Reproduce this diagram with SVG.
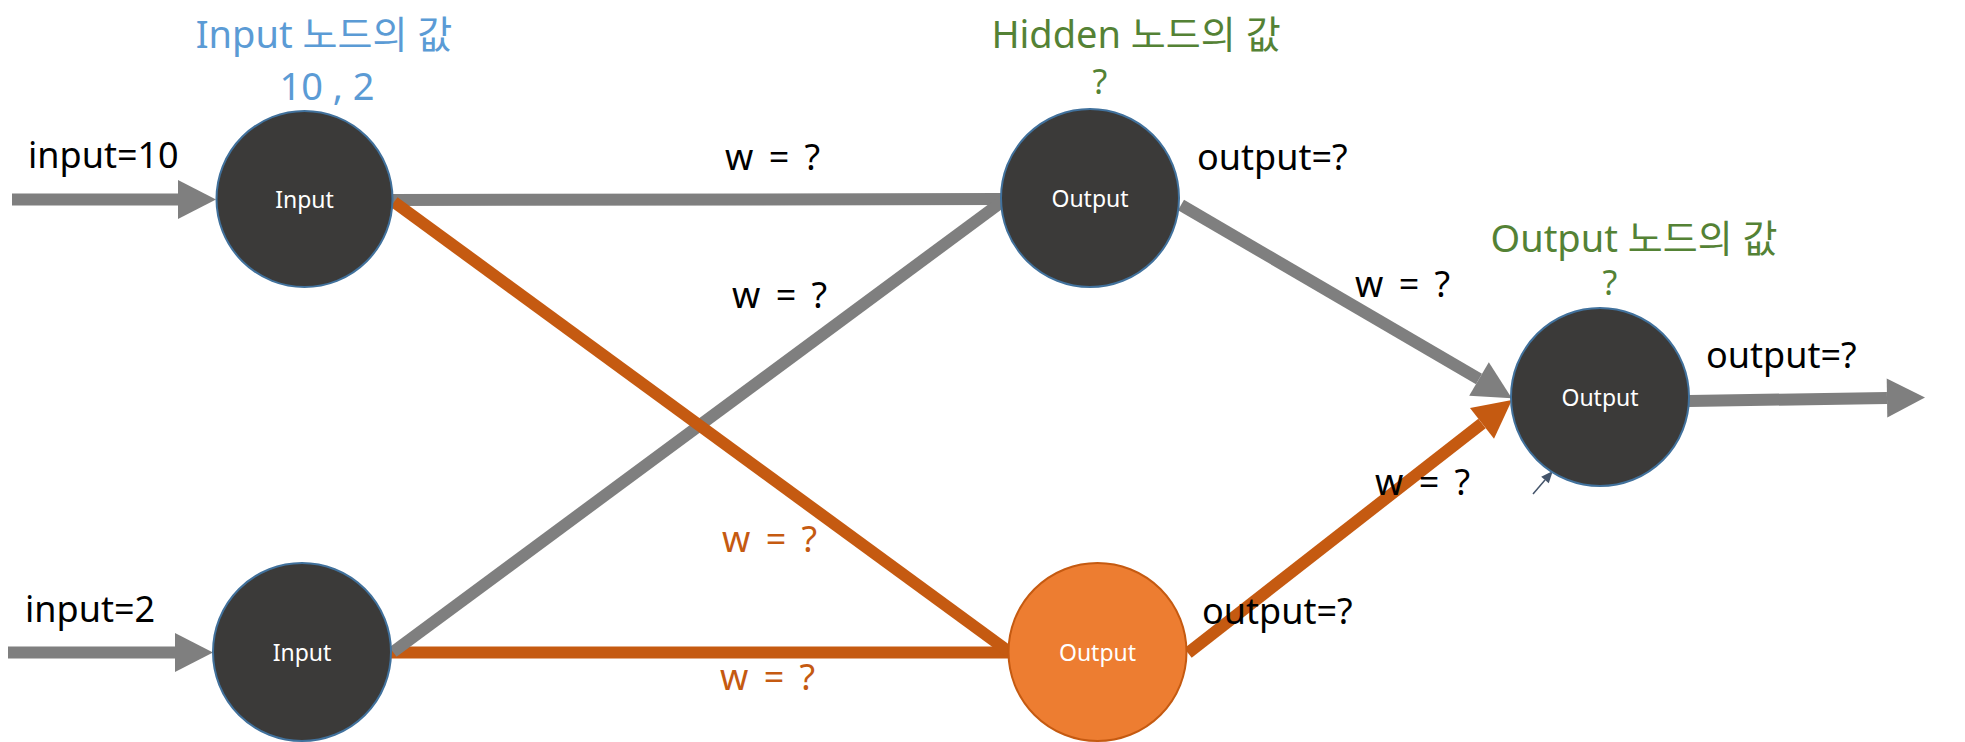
<svg xmlns="http://www.w3.org/2000/svg" width="1965" height="742" viewBox="0 0 1965 742">
<style>
text{font-family:"Noto Sans","Noto Sans CJK KR",sans-serif}
.lbl{font-size:36px;fill:#000}
.w{font-size:36px;word-spacing:6px}
.blue{fill:#5B9BD5;font-size:38px}
.green{fill:#548235;font-size:38px}
.q{font-size:34px}
.orange{fill:#C55A11}
.nl{font-size:23px;fill:#fff;text-anchor:middle}
.dark{fill:#3B3A39;stroke:#41719C;stroke-width:2}
.orn{fill:#ED7D31;stroke:#C55A11;stroke-width:2}
.g{stroke:#7F7F7F;stroke-width:12;fill:none}
.o{stroke:#C55A11;stroke-width:12;fill:none}
</style>
<defs>
<marker id="ahg" markerUnits="userSpaceOnUse" markerWidth="40" markerHeight="40" refX="0" refY="19.5" orient="auto" overflow="visible"><path d="M0,0 L38,19.5 L0,39 z" fill="#7F7F7F"/></marker>
<marker id="aho" markerUnits="userSpaceOnUse" markerWidth="40" markerHeight="40" refX="0" refY="19.5" orient="auto" overflow="visible"><path d="M0,0 L38,19.5 L0,39 z" fill="#C55A11"/></marker>
<marker id="ahs" markerUnits="userSpaceOnUse" markerWidth="12" markerHeight="12" refX="0" refY="5" orient="auto" overflow="visible"><path d="M0,0 L12,5 L0,10 z" fill="#44546A"/></marker>
</defs>
<g id="connectors">
<line class="g" x1="12" y1="199.5" x2="178" y2="199.5" marker-end="url(#ahg)"/>
<line class="g" x1="8" y1="652.5" x2="175" y2="652.5" marker-end="url(#ahg)"/>
<line class="o" x1="391" y1="652.5" x2="1009" y2="652.5"/>
<line class="g" x1="392" y1="200" x2="1002" y2="199"/>
<line class="g" x1="393" y1="652" x2="1003" y2="201"/>
<line class="o" x1="394" y1="202" x2="1008" y2="651"/>
<line class="g" x1="1181" y1="205" x2="1479" y2="379" marker-end="url(#ahg)"/>
<line class="o" x1="1188" y1="653" x2="1482" y2="423.4" marker-end="url(#aho)"/>
<line class="g" x1="1689" y1="401" x2="1887" y2="398" marker-end="url(#ahg)"/>
<line x1="1533" y1="494" x2="1545" y2="480" stroke="#44546A" stroke-width="1.5" marker-end="url(#ahs)"/>
</g>
<g id="input1"><circle class="dark" cx="304.5" cy="199" r="88"/><text class="nl" x="304.5" y="208">Input</text></g>
<g id="input2"><circle class="dark" cx="302" cy="652" r="89"/><text class="nl" x="302" y="661">Input</text></g>
<g id="hidden1"><circle class="dark" cx="1090" cy="198" r="89"/><text class="nl" x="1090" y="207">Output</text></g>
<g id="hidden2"><circle class="orn" cx="1097.5" cy="652" r="89"/><text class="nl" x="1097.5" y="661">Output</text></g>
<g id="output"><circle class="dark" cx="1600" cy="397" r="89"/><text class="nl" x="1600" y="406">Output</text></g>
<g id="labels">
<text class="blue" x="324" y="48" text-anchor="middle">Input 노드의 값</text>
<text class="blue" x="327" y="100" text-anchor="middle">10 , 2</text>
<text class="green" x="1136" y="48" text-anchor="middle">Hidden 노드의 값</text>
<text class="green q" x="1100" y="94" text-anchor="middle">?</text>
<text class="green" x="1634" y="252" text-anchor="middle">Output 노드의 값</text>
<text class="green q" x="1610" y="295" text-anchor="middle">?</text>
<text class="lbl" x="28" y="168">input=10</text>
<text class="lbl" x="25" y="622">input=2</text>
<text class="lbl" x="1197" y="170">output=?</text>
<text class="lbl" x="1202" y="624">output=?</text>
<text class="lbl" x="1706" y="368">output=?</text>
<text class="w" x="725" y="170">w = ?</text>
<text class="w" x="732" y="308">w = ?</text>
<text class="w orange" x="722" y="552">w = ?</text>
<text class="w orange" x="720" y="690">w = ?</text>
<text class="w" x="1355" y="297">w = ?</text>
<text class="w" x="1375" y="495">w = ?</text>
</g>
</svg>
